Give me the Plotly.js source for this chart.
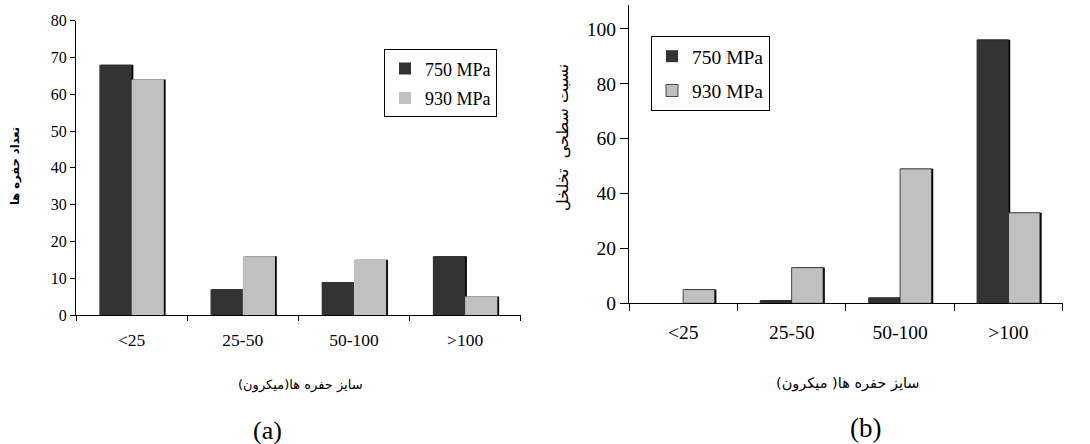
<!DOCTYPE html>
<html>
<head>
<meta charset="utf-8">
<script src="https://cdn.plot.ly/plotly-3.0.1.min.js"></script>
<style>html,body{margin:0;padding:0;background:#fff;}#chart{width:1090px;height:444px;}</style>
</head>
<body>
<div id="chart"></div>
<script>
// ---- data ----
const categories = ['<25', '25-50', '50-100', '>100'];
const seriesNames = ['750 MPa', '930 MPa'];
// (a) number of pores
const countA750 = [68, 7, 9, 16];
const countA930 = [64, 16, 15, 5];
// (b) porosity surface fraction
const fracB750 = [0, 1, 2, 96];
const fracB930 = [5, 13, 49, 33];
const yTicksA = [0, 10, 20, 30, 40, 50, 60, 70, 80];
const yTicksB = [0, 20, 40, 60, 80, 100];

const DARK = '#333333', LIGHT = '#c0c0c0', SHADOW = '#000000';
const SERIF = 'Liberation Serif';
const ARABIC = 'DejaVu Sans';
const W = 0.29, SH = 0.016;

function barSet(vals, name, color, offset, xa, ya, legend, lineW) {
  return [
    {type: 'bar', x: categories, y: vals, xaxis: xa, yaxis: ya, width: W, offset: offset + SH,
     marker: {color: SHADOW, line: {width: 0}}, showlegend: false, hoverinfo: 'skip'},
    {type: 'bar', x: categories, y: vals, name: name, xaxis: xa, yaxis: ya, width: W, offset: offset,
     marker: {color: color, line: {width: vals.map(v => v > 0 ? lineW : 0), color: '#222'}},
     legend: legend, legendgroup: legend + name}
  ];
}

const data = [].concat(
  barSet(countA750, seriesNames[0], DARK, -W, 'x', 'y', 'legend', 0),
  barSet(countA930, seriesNames[1], LIGHT, 0, 'x', 'y', 'legend', 0),
  barSet(fracB750, seriesNames[0], DARK, -W, 'x2', 'y2', 'legend2', 0.8),
  barSet(fracB930, seriesNames[1], LIGHT, 0, 'x2', 'y2', 'legend2', 0.8)
);

const rtl = s => '\u200F' + s + '\u200F';

const layout = {
  width: 1090, height: 444, autosize: false,
  margin: {l: 0, r: 0, t: 0, b: 0},
  paper_bgcolor: '#fff', plot_bgcolor: 'rgba(0,0,0,0)',
  barmode: 'overlay',
  font: {family: SERIF, color: '#000'},
  xaxis: {
    domain: [76/1090, 520.7/1090], anchor: 'y', type: 'category', range: [-0.5, 3.5],
    showline: true, linecolor: '#000', linewidth: 1, ticks: 'outside', tickson: 'boundaries',
    ticklen: 5, tickcolor: '#000', showgrid: false, zeroline: false,
    tickfont: {family: SERIF, size: 17.5, color: '#000'}, ticklabelstandoff: 9
  },
  yaxis: {
    domain: [(444-315)/444, (444-20.7)/444], anchor: 'x', range: [0, 80],
    tickvals: yTicksA, ticktext: yTicksA.map(String),
    showline: true, linecolor: '#000', linewidth: 1, ticks: 'outside', ticklen: 5, tickcolor: '#000',
    showgrid: false, zeroline: false, tickfont: {family: SERIF, size: 16, color: '#000'}
  },
  xaxis2: {
    domain: [629/1090, 1062.7/1090], anchor: 'y2', type: 'category', range: [-0.5, 3.5],
    showline: true, linecolor: '#000', linewidth: 1, ticks: 'outside', tickson: 'boundaries',
    ticklen: 7, tickcolor: '#000', showgrid: false, zeroline: false,
    tickfont: {family: SERIF, size: 19.5, color: '#000'}, ticklabelstandoff: 11
  },
  yaxis2: {
    domain: [(444-303.3)/444, (444-5)/444], anchor: 'x2', range: [0, 108.7],
    tickvals: yTicksB, ticktext: yTicksB.map(String),
    showline: true, linecolor: '#000', linewidth: 1, ticks: 'outside', ticklen: 8, tickcolor: '#000',
    showgrid: false, zeroline: false, tickfont: {family: SERIF, size: 19.5, color: '#000'}
  },
  legend: {
    x: 384/1090, y: (444-49.3)/444, xanchor: 'left', yanchor: 'top',
    bgcolor: '#fff', bordercolor: '#000', borderwidth: 1,
    font: {family: SERIF, size: 18, color: '#000'}, itemwidth: 30, tracegroupgap: 3, traceorder: 'grouped'
  },
  legend2: {
    x: 651/1090, y: (444-36)/444, xanchor: 'left', yanchor: 'top',
    bgcolor: '#fff', bordercolor: '#000', borderwidth: 1,
    font: {family: SERIF, size: 19.5, color: '#000'}, itemwidth: 30, tracegroupgap: 6, traceorder: 'grouped'
  },
  annotations: [
    {xref: 'paper', yref: 'paper', x: 15/1090, y: (444-166)/444, xanchor: 'center', yanchor: 'middle',
     text: '<b>' + rtl('تعداد حفره ها') + '</b>', textangle: -90, showarrow: false,
     font: {family: ARABIC, size: 11.5, color: '#000'}},
    {xref: 'paper', yref: 'paper', x: 300/1090, y: (444-385)/444, xanchor: 'center', yanchor: 'middle',
     text: rtl('سایز حفره ها(میکرون)'), showarrow: false,
     font: {family: ARABIC, size: 13, color: '#000'}},
    {xref: 'paper', yref: 'paper', x: 267/1090, y: (444-430)/444, xanchor: 'center', yanchor: 'middle',
     text: '(a)', showarrow: false, font: {family: SERIF, size: 26, color: '#000'}},
    {xref: 'paper', yref: 'paper', x: 562/1090, y: (444-138)/444, xanchor: 'center', yanchor: 'middle',
     text: rtl('نسبت سطحی  تخلخل'), textangle: -90, showarrow: false,
     font: {family: ARABIC, size: 16, color: '#000'}},
    {xref: 'paper', yref: 'paper', x: 848/1090, y: (444-383)/444, xanchor: 'center', yanchor: 'middle',
     text: rtl('سایز حفره ها( میکرون)'), showarrow: false,
     font: {family: ARABIC, size: 14.5, color: '#000'}},
    {xref: 'paper', yref: 'paper', x: 865/1090, y: (444-428)/444, xanchor: 'center', yanchor: 'middle',
     text: '(b)', showarrow: false, font: {family: SERIF, size: 27, color: '#000'}}
  ]
};

Plotly.newPlot('chart', data, layout, {staticPlot: true, displayModeBar: false});
</script>
</body>
</html>
